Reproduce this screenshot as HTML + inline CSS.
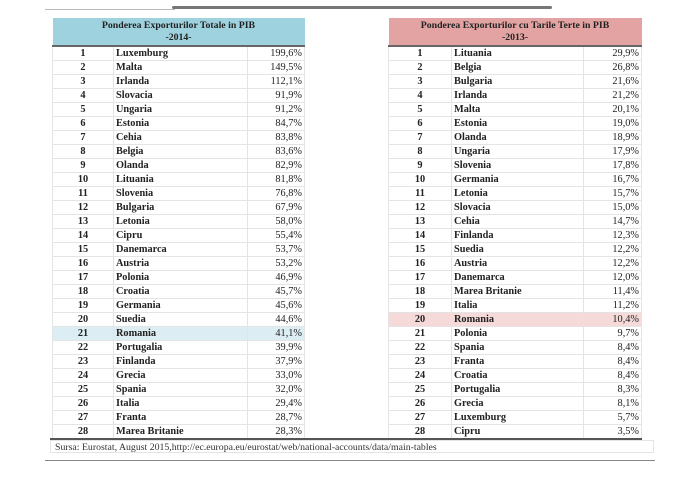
<!DOCTYPE html>
<html><head><meta charset="utf-8"><style>
body{margin:0;width:681px;height:477px;background:#fff;position:relative;overflow:hidden;font-family:"Liberation Serif",serif;}
.t{position:absolute;border-collapse:collapse;font-size:10.3px;color:#222;}
.t td{height:13px;padding:0 2px;border:1px solid #e4e4e4;line-height:13px;white-space:nowrap;}
.t td.n{text-align:center;font-weight:bold;}
.t td.c{font-weight:bold;padding-left:2px;}
.t td.v{text-align:right;}
.t th{height:27px;font-size:9.8px;font-weight:bold;line-height:12px;padding:0;border-bottom:2px solid #666;}
.L{left:52px;top:18px;width:253px;}
.R{left:388px;top:18px;width:254px;}
.L th{background:#9fd2df;}
.R th{background:#e3a3a3;}
tr.hb td{background:#dcedf3;}
tr.hp td{background:#f6dada;}
</style></head><body>
<div style="position:absolute;left:45px;top:9px;width:130px;height:1px;background:#bbb"></div>
<div style="position:absolute;left:172px;top:6px;width:380px;height:3px;background:#777;border-radius:2px"></div>

<table class="L t">
<tr><th colspan="3">Ponderea Exporturilor Totale in PIB<br>-2014-</th></tr>
<tr><td class="n" style="width:56px">1</td><td class="c" style="width:129px">Luxemburg</td><td class="v">199,6%</td></tr>
<tr><td class="n">2</td><td class="c">Malta</td><td class="v">149,5%</td></tr>
<tr><td class="n">3</td><td class="c">Irlanda</td><td class="v">112,1%</td></tr>
<tr><td class="n">4</td><td class="c">Slovacia</td><td class="v">91,9%</td></tr>
<tr><td class="n">5</td><td class="c">Ungaria</td><td class="v">91,2%</td></tr>
<tr><td class="n">6</td><td class="c">Estonia</td><td class="v">84,7%</td></tr>
<tr><td class="n">7</td><td class="c">Cehia</td><td class="v">83,8%</td></tr>
<tr><td class="n">8</td><td class="c">Belgia</td><td class="v">83,6%</td></tr>
<tr><td class="n">9</td><td class="c">Olanda</td><td class="v">82,9%</td></tr>
<tr><td class="n">10</td><td class="c">Lituania</td><td class="v">81,8%</td></tr>
<tr><td class="n">11</td><td class="c">Slovenia</td><td class="v">76,8%</td></tr>
<tr><td class="n">12</td><td class="c">Bulgaria</td><td class="v">67,9%</td></tr>
<tr><td class="n">13</td><td class="c">Letonia</td><td class="v">58,0%</td></tr>
<tr><td class="n">14</td><td class="c">Cipru</td><td class="v">55,4%</td></tr>
<tr><td class="n">15</td><td class="c">Danemarca</td><td class="v">53,7%</td></tr>
<tr><td class="n">16</td><td class="c">Austria</td><td class="v">53,2%</td></tr>
<tr><td class="n">17</td><td class="c">Polonia</td><td class="v">46,9%</td></tr>
<tr><td class="n">18</td><td class="c">Croatia</td><td class="v">45,7%</td></tr>
<tr><td class="n">19</td><td class="c">Germania</td><td class="v">45,6%</td></tr>
<tr><td class="n">20</td><td class="c">Suedia</td><td class="v">44,6%</td></tr>
<tr class="hb"><td class="n">21</td><td class="c">Romania</td><td class="v">41,1%</td></tr>
<tr><td class="n">22</td><td class="c">Portugalia</td><td class="v">39,9%</td></tr>
<tr><td class="n">23</td><td class="c">Finlanda</td><td class="v">37,9%</td></tr>
<tr><td class="n">24</td><td class="c">Grecia</td><td class="v">33,0%</td></tr>
<tr><td class="n">25</td><td class="c">Spania</td><td class="v">32,0%</td></tr>
<tr><td class="n">26</td><td class="c">Italia</td><td class="v">29,4%</td></tr>
<tr><td class="n">27</td><td class="c">Franta</td><td class="v">28,7%</td></tr>
<tr><td class="n">28</td><td class="c">Marea Britanie</td><td class="v">28,3%</td></tr>
</table>

<table class="R t">
<tr><th colspan="3">Ponderea Exporturilor cu Tarile Terte in PIB<br>-2013-</th></tr>
<tr><td class="n" style="width:58px">1</td><td class="c" style="width:127px">Lituania</td><td class="v">29,9%</td></tr>
<tr><td class="n">2</td><td class="c">Belgia</td><td class="v">26,8%</td></tr>
<tr><td class="n">3</td><td class="c">Bulgaria</td><td class="v">21,6%</td></tr>
<tr><td class="n">4</td><td class="c">Irlanda</td><td class="v">21,2%</td></tr>
<tr><td class="n">5</td><td class="c">Malta</td><td class="v">20,1%</td></tr>
<tr><td class="n">6</td><td class="c">Estonia</td><td class="v">19,0%</td></tr>
<tr><td class="n">7</td><td class="c">Olanda</td><td class="v">18,9%</td></tr>
<tr><td class="n">8</td><td class="c">Ungaria</td><td class="v">17,9%</td></tr>
<tr><td class="n">9</td><td class="c">Slovenia</td><td class="v">17,8%</td></tr>
<tr><td class="n">10</td><td class="c">Germania</td><td class="v">16,7%</td></tr>
<tr><td class="n">11</td><td class="c">Letonia</td><td class="v">15,7%</td></tr>
<tr><td class="n">12</td><td class="c">Slovacia</td><td class="v">15,0%</td></tr>
<tr><td class="n">13</td><td class="c">Cehia</td><td class="v">14,7%</td></tr>
<tr><td class="n">14</td><td class="c">Finlanda</td><td class="v">12,3%</td></tr>
<tr><td class="n">15</td><td class="c">Suedia</td><td class="v">12,2%</td></tr>
<tr><td class="n">16</td><td class="c">Austria</td><td class="v">12,2%</td></tr>
<tr><td class="n">17</td><td class="c">Danemarca</td><td class="v">12,0%</td></tr>
<tr><td class="n">18</td><td class="c">Marea Britanie</td><td class="v">11,4%</td></tr>
<tr><td class="n">19</td><td class="c">Italia</td><td class="v">11,2%</td></tr>
<tr class="hp"><td class="n">20</td><td class="c">Romania</td><td class="v">10,4%</td></tr>
<tr><td class="n">21</td><td class="c">Polonia</td><td class="v">9,7%</td></tr>
<tr><td class="n">22</td><td class="c">Spania</td><td class="v">8,4%</td></tr>
<tr><td class="n">23</td><td class="c">Franta</td><td class="v">8,4%</td></tr>
<tr><td class="n">24</td><td class="c">Croatia</td><td class="v">8,4%</td></tr>
<tr><td class="n">25</td><td class="c">Portugalia</td><td class="v">8,3%</td></tr>
<tr><td class="n">26</td><td class="c">Grecia</td><td class="v">8,1%</td></tr>
<tr><td class="n">27</td><td class="c">Luxemburg</td><td class="v">5,7%</td></tr>
<tr><td class="n">28</td><td class="c">Cipru</td><td class="v">3,5%</td></tr>
</table>

<div style="position:absolute;left:50px;top:438px;width:592px;height:2px;background:#555"></div>
<div style="position:absolute;left:50px;top:440px;width:604px;height:13px;border:1px solid #e4e4e4;font-size:9.8px;line-height:13px;padding-left:4px;color:#333;box-sizing:border-box">Sursa: Eurostat, August 2015,http://ec.europa.eu/eurostat/web/national-accounts/data/main-tables</div>
<div style="position:absolute;left:45px;top:460px;width:610px;height:1px;background:#888"></div>
</body></html>
